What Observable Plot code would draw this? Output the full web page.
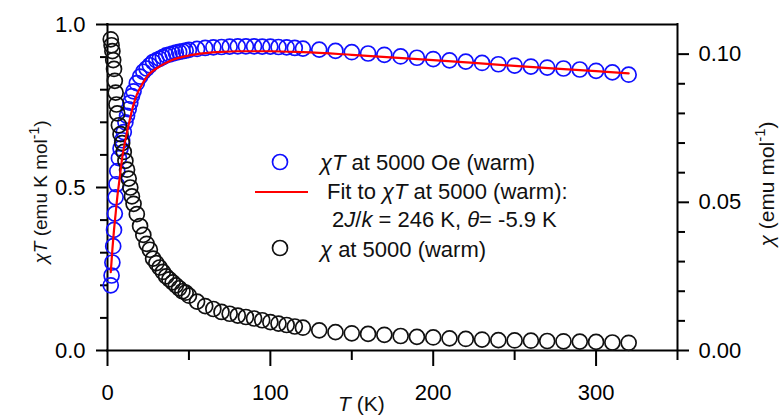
<!DOCTYPE html>
<html><head><meta charset="utf-8">
<script src="https://cdn.jsdelivr.net/npm/d3@7"></script>
<script src="https://cdn.jsdelivr.net/npm/@observablehq/plot@0.6"></script>
<style>body{margin:0;background:#fff}#chart{width:780px;height:417px}</style>
</head><body><div id="chart"></div>
<script>
// Temperature grid (K) of the measured points
const temps = [2,2.5,3,3.5,4,4.5,5,5.5,6,7,8,9,10,11,12,13,14,15,16,18,20,22,24,26,28,30,32,34,36,38,40,42,44,46,48,50,55,60,65,70,75,80,85,90,95,100,105,110,115,120,130,140,150,160,170,180,190,200,210,220,230,240,250,260,270,280,290,300,310,320];
// chi*T (emu K mol^-1), left axis
const chiT = [0.20,0.23,0.27,0.32,0.37,0.42,0.47,0.51,0.55,0.59,0.62,0.645,0.67,0.70,0.72,0.74,0.76,0.78,0.795,0.82,0.84,0.855,0.865,0.875,0.885,0.89,0.895,0.90,0.905,0.908,0.911,0.914,0.916,0.918,0.92,0.922,0.925,0.928,0.93,0.931,0.932,0.933,0.933,0.933,0.932,0.932,0.931,0.93,0.928,0.926,0.923,0.919,0.915,0.911,0.907,0.902,0.898,0.894,0.89,0.886,0.882,0.878,0.874,0.871,0.868,0.865,0.862,0.858,0.853,0.846];
// chi (emu mol^-1), right axis
const chi = [0.105,0.103,0.101,0.098,0.095,0.091,0.087,0.083,0.080,0.076,0.073,0.070,0.067,0.064,0.061,0.058,0.055,0.052,0.0495,0.046,0.042,0.039,0.036,0.034,0.031,0.0295,0.028,0.0265,0.025,0.024,0.023,0.022,0.021,0.020,0.0195,0.0185,0.0165,0.015,0.014,0.013,0.0124,0.0118,0.0113,0.0108,0.0102,0.0096,0.0091,0.0086,0.0081,0.0077,0.0068,0.0062,0.0058,0.0056,0.0053,0.0049,0.0046,0.0044,0.0041,0.0039,0.0037,0.0035,0.0034,0.0033,0.0032,0.0031,0.0030,0.0029,0.0027,0.0026];
// Fit curve
const fitT = [2,3,4,5,6,7,8,9,10,12,14,16,18,20,25,30,35,40,50,60,70,80,90,100,120,150,200,250,300,320];
const fitChiT = [0.24,0.31,0.37,0.42,0.47,0.51,0.55,0.59,0.62,0.67,0.715,0.755,0.785,0.805,0.845,0.865,0.88,0.892,0.905,0.912,0.916,0.918,0.918,0.918,0.915,0.907,0.891,0.873,0.857,0.850];
// Ticks
const xMajorTicks = [0,100,200,300];
const xMinorTicks = [50,150,250,350];
const yLeftMajor = [0,0.5,1.0];
const yLeftMinor = [0.1,0.2,0.3,0.4,0.6,0.7,0.8,0.9];
const yRightMajor = [0,0.05,0.10];
const yRightMinor = [0.01,0.02,0.03,0.04,0.06,0.07,0.08,0.09];
const rightMax = 0.11;
const xDomain = [0,350];
const yDomain = [0,1];

const blueData = temps.map((t,i)=>({T:t, v:chiT[i]}));
const blackData = temps.map((t,i)=>({T:t, c:chi[i]}));
const fitData = fitT.map((t,i)=>({T:t, v:fitChiT[i]}));

const FONT = "'Liberation Sans', Arial, sans-serif";
const plot = Plot.plot({
  width: 780, height: 417,
  marginLeft: 107, marginRight: 103, marginTop: 24, marginBottom: 67,
  x: {domain: xDomain},
  y: {domain: yDomain},
  style: {fontFamily: FONT, fontSize: "22px", color: "black", background: "white", overflow: "visible"},
  marks: [
    Plot.axisX(xMinorTicks, {tickSize: 10, tickFormat: () => "", strokeWidth: 2, label: null}),
    Plot.axisX(xMajorTicks, {tickSize: 16, tickPadding: 18, strokeWidth: 2, label: null, tickFormat: d => String(d)}),
    Plot.axisY(yLeftMinor, {anchor: "left", tickSize: 7, tickFormat: () => "", strokeWidth: 2, label: null}),
    Plot.axisY(yLeftMajor, {anchor: "left", tickSize: 11, tickPadding: 11, strokeWidth: 2, label: null, tickFormat: d3.format(".1f")}),
    Plot.axisY(yRightMinor.map(v => v / rightMax), {anchor: "right", tickSize: 7, tickFormat: () => "", strokeWidth: 2, label: null}),
    Plot.axisY(yRightMajor.map(v => v / rightMax), {anchor: "right", tickSize: 11, tickPadding: 10, strokeWidth: 2, label: null, tickFormat: v => (v * rightMax).toFixed(2)}),
    Plot.ruleX(xDomain, {strokeWidth: 2, strokeLinecap: "square"}),
    Plot.ruleY(yDomain, {strokeWidth: 2, strokeLinecap: "square"}),
    Plot.dot(blueData, {x: "T", y: "v", r: 7.5, stroke: "#1010ff", strokeWidth: 1.7, fill: "none"}),
    Plot.dot(blackData, {x: "T", y: d => d.c / rightMax, r: 7.5, stroke: "#111", strokeWidth: 1.7, fill: "none"}),
    Plot.line(fitData, {x: "T", y: "v", stroke: "#ff0000", strokeWidth: 2.2, curve: "monotone-x"})
  ]
});
document.getElementById("chart").appendChild(plot);

const svg = d3.select(plot);
function addText(x, y, parts, opts = {}) {
  const t = svg.append("text").attr("x", x).attr("y", y)
    .attr("font-family", FONT).attr("font-size", opts.size || 22).attr("fill", "#111")
    .attr("text-anchor", opts.anchor || "start");
  if (opts.rotate) t.attr("transform", `rotate(${opts.rotate},${x},${y})`);
  for (const p of parts) {
    const s = t.append("tspan").text(p.t);
    if (p.i) s.attr("font-style", "italic");
    if (p.dy) s.attr("dy", p.dy);
    if (p.size) s.attr("font-size", p.size);
  }
  return t;
}
// Axis titles
addText(338, 411, [{t: "T", i: true}, {t: " (K)"}], {size: 21});
addText(47, 192, [{t: "χT", i: true}, {t: " (emu K mol"}, {t: "-1", size: 14, dy: -8}, {t: ")", dy: 8}], {rotate: -90, anchor: "middle", size: 19});
addText(774, 184, [{t: "χ", i: true}, {t: " (emu mol"}, {t: "-1", size: 15, dy: -9}, {t: ")", dy: 9}], {rotate: -90, anchor: "middle", size: 21});

// Legend
svg.append("circle").attr("cx", 280).attr("cy", 162).attr("r", 7.5).attr("fill", "none").attr("stroke", "#1010ff").attr("stroke-width", 1.7);
addText(320, 170, [{t: "χT", i: true}, {t: " at 5000 Oe (warm)"}]);
svg.append("line").attr("x1", 255).attr("x2", 308).attr("y1", 192).attr("y2", 192).attr("stroke", "#ff0000").attr("stroke-width", 2.2);
addText(327, 199, [{t: "Fit to "}, {t: "χT", i: true}, {t: " at 5000 (warm):"}]);
addText(332, 227, [{t: "2"}, {t: "J", i: true}, {t: "/"}, {t: "k", i: true}, {t: " = 246 K, "}, {t: "θ", i: true}, {t: "= -5.9 K"}]);
svg.append("circle").attr("cx", 280).attr("cy", 248).attr("r", 7.5).attr("fill", "none").attr("stroke", "#111").attr("stroke-width", 1.7);
addText(320, 257, [{t: "χ", i: true}, {t: " at 5000 (warm)"}]);
</script>
</body></html>
